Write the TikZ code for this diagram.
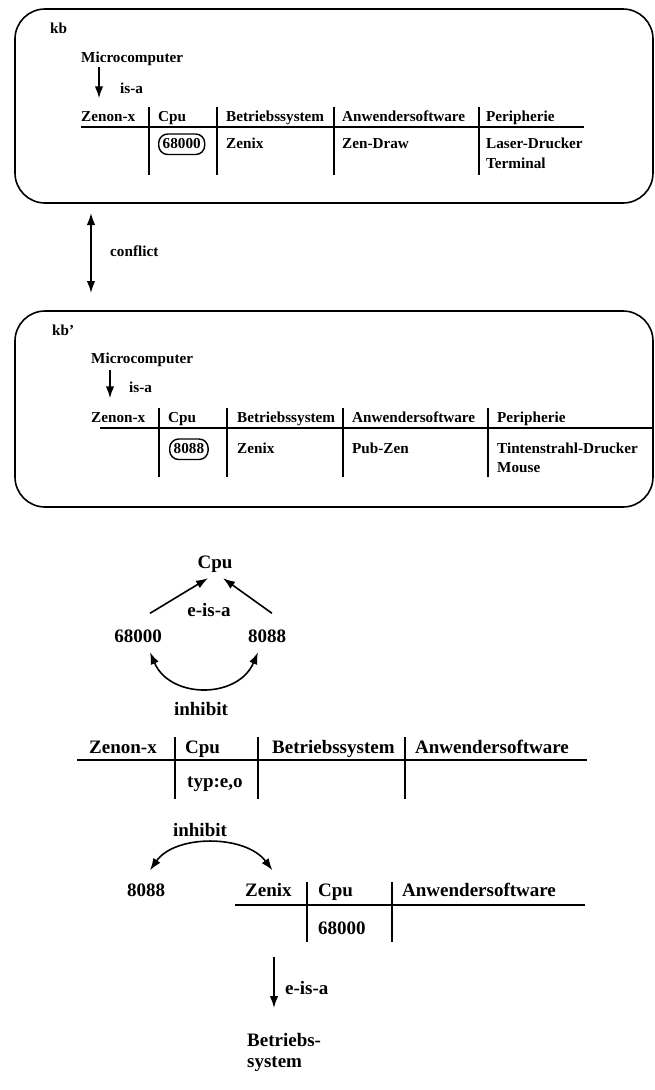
\documentclass[tikz,border=0pt]{standalone}
\usepackage{fontspec}
\setmainfont{Liberation Serif}
\usetikzlibrary{arrows.meta}

\tikzset{
  small/.style={font=\bfseries\fontsize{15.2}{20}\selectfont, inner sep=0pt, text height=11pt, text depth=3.5pt},
  large/.style={font=\bfseries\fontsize{19}{22}\selectfont, inner sep=0pt, text height=13.5pt, text depth=4.5pt},
  kbframe/.style={line width=1.6pt, rounded corners=30pt},
  rule/.style={line width=1.7pt},
  oval/.style={draw, line width=1.4pt, rounded corners=9pt, inner xsep=4pt, inner ysep=3pt},
  isa/.style={line width=1.6pt, -{Latex[length=12pt,width=8.5pt]}},
  both/.style={line width=1.6pt, {Latex[length=12pt,width=8.5pt]}-{Latex[length=12pt,width=8.5pt]}}
}

\begin{document}
\begin{tikzpicture}[x=1pt,y=-1pt]
    % Fix the picture size
    \useasboundingbox (0,0) rectangle (655,1090);

    % Knowledge base kb
    \draw[kbframe] (15,9) rectangle (653,203);
    \node[small, anchor=base west] (kbA) at (50,33) {kb};
    \node[small, anchor=base west] (mcA) at (81,62) {Microcomputer};
    \foreach \x/\txt [count=\i] in {81/Zenon-x,158/Cpu,226/Betriebssystem,342/Anwendersoftware,486/Peripherie}
        \node[small, anchor=base west] (hdA\i) at (\x,121) {\txt};
    \draw[isa] ([shift={(18,1.5)}]mcA.south west) -- ([shift={(18,-11.5)}]hdA1.north west);
    \node[small, anchor=base west] (isaA) at (120,93) {is-a};
    \draw[rule] (81,127) -- (584,127);
    \foreach \x in {149,217,334,479}
        \draw[rule] (\x,107) -- (\x,175);
    \node[small, oval, anchor=base west] (cpuA) at (158,148) {68000};
    \node[small, anchor=base west] (osA) at (226,148) {Zenix};
    \node[small, anchor=base west] (swA) at (342,148) {Zen-Draw};
    \node[small, anchor=base west] (peA) at (486,148) {Laser-Drucker};
    \node[small, anchor=base west] (peA2) at (486,168) {Terminal};

    % Conflict between kb and kb'
    \coordinate (cfTop) at (91,213);
    \coordinate (cfBot) at (91,293);
    \draw[both] (cfTop) -- (cfBot);
    \node[small, anchor=base west] (cfl) at (110,256) {conflict};

    % Knowledge base kb'
    \draw[kbframe] (15,311) rectangle (653,507);
    \node[small, anchor=base west] (kbB) at (52,335) {kb'};
    \node[small, anchor=base west] (mcB) at (91,363) {Microcomputer};
    \foreach \x/\txt [count=\i] in {91/Zenon-x,168/Cpu,237/Betriebssystem,352/Anwendersoftware,497/Peripherie}
        \node[small, anchor=base west] (hdB\i) at (\x,422) {\txt};
    \draw[isa] ([shift={(19,3.5)}]mcB.south west) -- ([shift={(19,-12.5)}]hdB1.north west);
    \node[small, anchor=base west] (isaB) at (129,392) {is-a};
    \draw[rule] (100,428) -- (652,428);
    \foreach \x in {159,227,343,488}
        \draw[rule] (\x,408) -- (\x,477);
    \node[small, oval, anchor=base west] (cpuB) at (169,453) {8088};
    \node[small, anchor=base west] (osB) at (237,453) {Zenix};
    \node[small, anchor=base west] (swB) at (352,453) {Pub-Zen};
    \node[small, anchor=base west] (peB) at (497,453) {Tintenstrahl-Drucker};
    \node[small, anchor=base west] (peB2) at (497,472) {Mouse};

    % Cpu hierarchy
    \node[large, anchor=base] (cpuG) at (215,568) {Cpu};
    \node[large, anchor=base] (m68G) at (138,642) {68000};
    \node[large, anchor=base] (i88G) at (267,642) {8088};
    \node[large, anchor=base] (eisaG) at (209,616) {e-is-a};
    \node[large, anchor=base] (inhG) at (201,715) {inhibit};
    \draw[isa] ([shift={(12,-15)}]m68G.north) -- ([shift={(-7,5.5)}]cpuG.south);
    \draw[isa] ([shift={(5,-15)}]i88G.north) -- ([shift={(8,5.5)}]cpuG.south);
    \draw[both] ([shift={(12,5.5)}]m68G.south) .. controls +(20,47) and +(-20,47) .. ([shift={(-9,5.5)}]i88G.south);

    % Frame with typed slot
    \foreach \x/\txt [count=\i] in {89/Zenon-x,185/Cpu,272/Betriebssystem,415/Anwendersoftware}
        \node[large, anchor=base west] (hdC\i) at (\x,753) {\txt};
    \draw[rule] (77,760) -- (587,760);
    \foreach \x in {175,258,405}
        \draw[rule] (\x,737) -- (\x,799);
    \node[large, anchor=base west] (typC) at (187,787) {typ:e,o};

    % Inhibit between 8088 and Zenix
    \node[large, anchor=base] (inhH) at (200,836) {inhibit};
    \node[large, anchor=base] (i88H) at (146,896) {8088};
    \foreach \x/\txt [count=\i] in {245/Zenix,318/Cpu,402/Anwendersoftware}
        \node[large, anchor=base west] (hdD\i) at (\x,896) {\txt};
    \draw[both] ([shift={(4,-12)}]i88H.north) .. controls +(25,-36) and +(-27,-36) .. ([shift={(4,-12)}]hdD1.north);
    \draw[rule] (235,905) -- (585,905);
    \foreach \x in {307,392}
        \draw[rule] (\x,882) -- (\x,942);
    \node[large, anchor=base west] (cpuD) at (318,934) {68000};

    % Zenix e-is-a Betriebssystem
    \coordinate (eisaTop) at (274,957);
    \node[font=\bfseries\fontsize{19}{21.5}\selectfont, align=left, inner sep=0pt, anchor=north west] (bsH) at (247,1033) {Betriebs-\\system};
    \draw[isa] (eisaTop) -- ([shift={(27,-25)}]bsH.north west);
    \node[large, anchor=base west] (eisaH) at (285,994) {e-is-a};

\end{tikzpicture}
\end{document}
